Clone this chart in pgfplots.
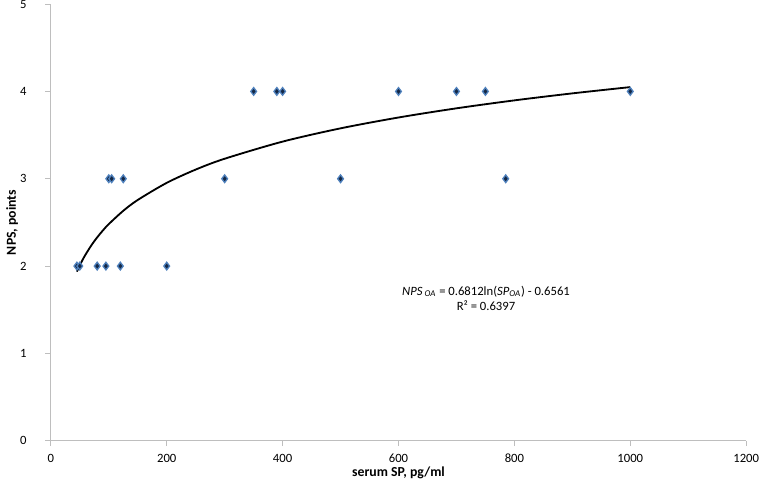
\documentclass[border=0pt]{standalone}
\usepackage{fontspec}
\setmainfont{Carlito}
\usepackage{pgfplots}
\pgfplotsset{compat=1.18}
\definecolor{MarkBlue}{RGB}{79,129,189}
\definecolor{MarkDark}{RGB}{20,40,70}
\definecolor{AxisGray}{RGB}{190,190,190}

\begin{document}
\begin{tikzpicture}
\begin{axis}[
    scale only axis,
    width=379pt,
    height=238pt,
    xmin=0, xmax=1200,
    ymin=0, ymax=5,
    xtick={0,200,...,1200},
    ytick={0,1,2,3,4,5},
    axis x line=bottom,
    axis y line=left,
    axis line style={draw=AxisGray, -},
    tick style={draw=AxisGray, line width=0.5pt},
    tick align=outside,
    major tick length=3pt,
    /pgf/number format/assume math mode=true,
    /pgf/number format/1000 sep={},
    tick label style={font=\fontsize{6.9}{8}\selectfont, inner sep=0pt},
    xticklabel style={yshift=-4pt},
    yticklabel style={xshift=-10pt},
    xlabel={\textbf{serum SP, pg/ml}},
    ylabel={\textbf{NPS, points}},
    label style={font=\fontsize{7.5}{9}\selectfont},
    xlabel style={yshift=1pt},
    ylabel style={at={(axis description cs:-0.038,0.5)}, anchor=south, rotate=0},
    clip=false
]
% observed points
\addplot[only marks, mark=diamond*, mark size=2.1pt,
    mark options={fill=MarkDark, draw=MarkBlue, line width=0.7pt}]
coordinates {
    (45,2) (50,2) (80,2) (95,2) (120,2) (200,2)
    (100,3) (105,3) (125,3) (300,3) (500,3) (785,3)
    (350,4) (390,4) (400,4) (600,4) (700,4) (750,4) (1000,4)
};
% logarithmic trend line, values precomputed
\addplot[black, line width=1pt, smooth] coordinates {
    (45,1.9370) (50,2.0088) (55,2.0737) (60,2.1330) (70,2.2380)
    (80,2.3289) (90,2.4092) (100,2.4809) (125,2.6330) (150,2.7572)
    (200,2.9531) (250,3.1051) (300,3.2293) (400,3.4253) (500,3.5773)
    (600,3.7015) (700,3.8065) (800,3.8975) (900,3.9777) (1000,4.0495)
};
\node[align=center, font=\fontsize{6.9}{8.6}\selectfont] at (axis cs:751,1.63)
    {\textit{NPS}\,\textsubscript{\textit{OA}} = 0.6812ln(\textit{SP}\textsubscript{\textit{OA}}) - 0.6561\\R² = 0.6397};
\end{axis}
\end{tikzpicture}
\end{document}
